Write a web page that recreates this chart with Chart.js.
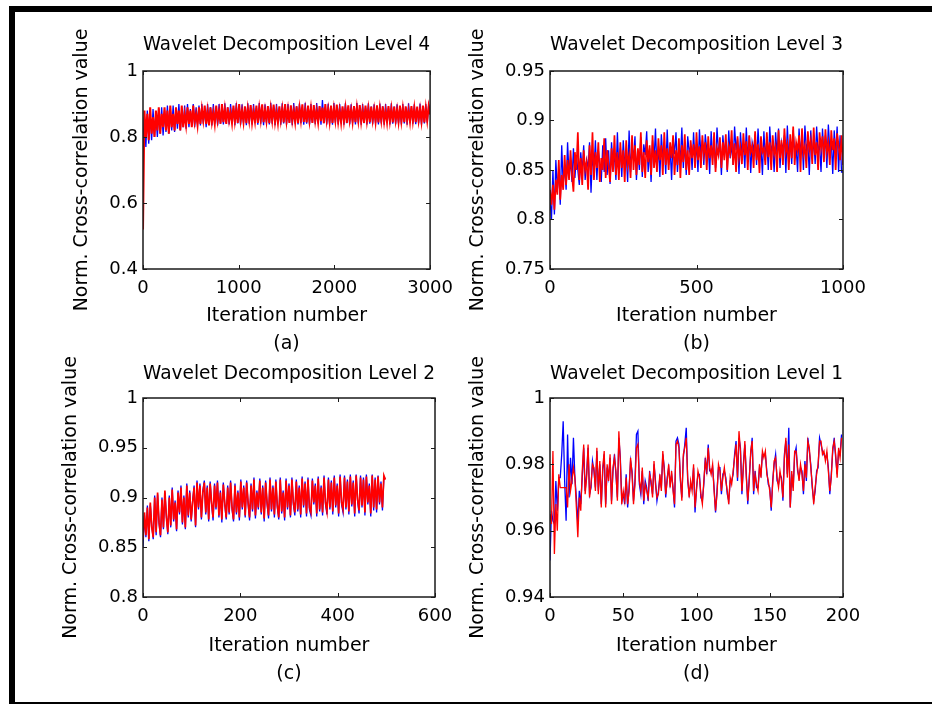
<!DOCTYPE html>
<html>
<head>
<meta charset="utf-8">
<title>Wavelet Decomposition Levels</title>
<script src="https://cdn.jsdelivr.net/npm/chart.js"></script>
<style>
  body { margin: 0; background: #fff; }
  #page { position: relative; width: 932px; height: 705px; overflow: hidden; background: #fff; }
  #page canvas { position: absolute; }
  .bar { position: absolute; background: #000; }
</style>
</head>
<body>
<div id="page">
  <div class="bar" style="left:9px;top:6px;width:923px;height:6px"></div>
  <div class="bar" style="left:9px;top:6px;width:6px;height:698px"></div>
  <div class="bar" style="left:9px;top:702px;width:923px;height:2px"></div>
  <canvas id="panelA" width="442" height="346" style="left:20px;top:14px"></canvas>
  <canvas id="panelB" width="440" height="346" style="left:462px;top:14px"></canvas>
  <canvas id="panelC" width="442" height="360" style="left:20px;top:340px"></canvas>
  <canvas id="panelD" width="440" height="360" style="left:462px;top:340px"></canvas>
</div>
<script>
// Level 4 (a): one sample every 15 iterations
var stepA = 15;
var blueA = [
  0.78, 0.86, 0.77, 0.88, 0.78, 0.87, 0.79, 0.885, 0.80, 0.87,
  0.80, 0.885, 0.81, 0.89, 0.805, 0.88, 0.815, 0.895, 0.81, 0.885,
  0.82, 0.895, 0.815, 0.88, 0.825, 0.9, 0.82, 0.885, 0.83, 0.895,
  0.825, 0.9, 0.83, 0.885, 0.835, 0.9, 0.83, 0.89, 0.84, 0.895,
  0.835, 0.9, 0.84, 0.885, 0.83, 0.9, 0.84, 0.89, 0.835, 0.9,
  0.84, 0.89, 0.835, 0.9, 0.84, 0.885, 0.838, 0.902, 0.842, 0.89,
  0.838, 0.9, 0.843, 0.888, 0.836, 0.903, 0.841, 0.893, 0.837, 0.899,
  0.843, 0.887, 0.836, 0.902, 0.84, 0.892, 0.838, 0.9, 0.842, 0.889,
  0.837, 0.903, 0.84, 0.891, 0.836, 0.899, 0.843, 0.888, 0.838, 0.904,
  0.84, 0.893, 0.836, 0.9, 0.842, 0.889, 0.837, 0.902, 0.841, 0.892,
  0.838, 0.9, 0.843, 0.888, 0.836, 0.903, 0.84, 0.893, 0.838, 0.901,
  0.842, 0.889, 0.837, 0.904, 0.84, 0.892, 0.838, 0.9, 0.843, 0.888,
  0.839, 0.903, 0.841, 0.893, 0.837, 0.912, 0.842, 0.89, 0.838, 0.901,
  0.84, 0.888, 0.837, 0.903, 0.843, 0.892, 0.838, 0.9, 0.841, 0.889,
  0.837, 0.902, 0.842, 0.891, 0.839, 0.899, 0.843, 0.888, 0.838, 0.903,
  0.841, 0.893, 0.837, 0.9, 0.842, 0.889, 0.838, 0.902, 0.84, 0.892,
  0.839, 0.899, 0.842, 0.888, 0.838, 0.901, 0.841, 0.893, 0.837, 0.9,
  0.843, 0.889, 0.838, 0.902, 0.84, 0.892, 0.839, 0.899, 0.842, 0.888,
  0.838, 0.9, 0.841, 0.891, 0.837, 0.902, 0.842, 0.89, 0.84, 0.899,
  0.839, 0.888, 0.842, 0.901, 0.838, 0.893, 0.841, 0.9, 0.843, 0.897,
  0.875
];
var redA = [
  0.52, 0.88, 0.80, 0.87, 0.79, 0.89, 0.81, 0.86, 0.80, 0.88,
  0.82, 0.89, 0.81, 0.87, 0.83, 0.89, 0.82, 0.88, 0.81, 0.895,
  0.83, 0.87, 0.82, 0.89, 0.84, 0.88, 0.82, 0.895, 0.83, 0.87,
  0.835, 0.89, 0.84, 0.88, 0.83, 0.895, 0.845, 0.87, 0.835, 0.89,
  0.84, 0.885, 0.85, 0.895, 0.84, 0.88, 0.835, 0.89, 0.845, 0.875,
  0.84, 0.895, 0.85, 0.88, 0.84, 0.9, 0.845, 0.885, 0.84, 0.89,
  0.85, 0.875, 0.842, 0.895, 0.848, 0.885, 0.843, 0.9, 0.85, 0.88,
  0.845, 0.893, 0.842, 0.886, 0.85, 0.897, 0.844, 0.878, 0.847, 0.895,
  0.843, 0.888, 0.852, 0.899, 0.845, 0.882, 0.848, 0.894, 0.842, 0.887,
  0.85, 0.898, 0.846, 0.879, 0.843, 0.893, 0.851, 0.886, 0.844, 0.9,
  0.848, 0.884, 0.843, 0.896, 0.85, 0.88, 0.845, 0.893, 0.842, 0.888,
  0.851, 0.899, 0.846, 0.883, 0.844, 0.895, 0.849, 0.887, 0.843, 0.897,
  0.85, 0.881, 0.845, 0.894, 0.848, 0.889, 0.842, 0.9, 0.851, 0.884,
  0.846, 0.895, 0.843, 0.886, 0.85, 0.898, 0.847, 0.882, 0.844, 0.893,
  0.849, 0.888, 0.843, 0.896, 0.851, 0.883, 0.846, 0.894, 0.845, 0.889,
  0.85, 0.897, 0.847, 0.882, 0.843, 0.895, 0.849, 0.886, 0.845, 0.892,
  0.851, 0.884, 0.846, 0.896, 0.844, 0.887, 0.85, 0.893, 0.847, 0.881,
  0.845, 0.894, 0.849, 0.886, 0.844, 0.892, 0.85, 0.883, 0.846, 0.895,
  0.848, 0.887, 0.845, 0.893, 0.851, 0.882, 0.846, 0.894, 0.849, 0.888,
  0.845, 0.892, 0.85, 0.884, 0.847, 0.895, 0.844, 0.889, 0.85, 0.893,
  0.868
];

// Level 3 (b): one sample every 5 iterations
var stepB = 5;
var blueB = [
  0.82, 0.8, 0.85, 0.805, 0.86, 0.83, 0.85, 0.815, 0.875, 0.835,
  0.855, 0.83, 0.878, 0.845, 0.86, 0.838, 0.872, 0.842, 0.865, 0.85,
  0.835, 0.868, 0.848, 0.875, 0.84, 0.86, 0.852, 0.878, 0.827, 0.865,
  0.85, 0.88, 0.84, 0.87, 0.855, 0.838, 0.875, 0.848, 0.882, 0.845,
  0.87, 0.836, 0.878, 0.855, 0.865, 0.84, 0.888, 0.85, 0.872, 0.843,
  0.88, 0.855, 0.868, 0.838, 0.89, 0.848, 0.875, 0.86, 0.884, 0.84,
  0.87, 0.85, 0.883, 0.843, 0.876, 0.865, 0.889, 0.848, 0.872, 0.838,
  0.88, 0.858, 0.892, 0.85, 0.874, 0.843, 0.886, 0.862, 0.878, 0.846,
  0.891, 0.855, 0.873, 0.84, 0.882, 0.866, 0.888, 0.848, 0.875, 0.86,
  0.893, 0.852, 0.878, 0.845, 0.884, 0.868, 0.874, 0.85, 0.888, 0.858,
  0.876, 0.848, 0.891, 0.865, 0.88, 0.855, 0.886, 0.87, 0.875, 0.846,
  0.889, 0.862, 0.878, 0.852, 0.893, 0.868, 0.874, 0.845, 0.885, 0.866,
  0.88, 0.848, 0.89, 0.862, 0.876, 0.855, 0.894, 0.87, 0.882, 0.846,
  0.888, 0.865, 0.875, 0.852, 0.893, 0.86, 0.884, 0.847, 0.878, 0.87,
  0.886, 0.855, 0.892, 0.866, 0.874, 0.845, 0.889, 0.862, 0.88, 0.85,
  0.894, 0.868, 0.876, 0.848, 0.888, 0.865, 0.892, 0.852, 0.878, 0.87,
  0.885, 0.847, 0.895, 0.862, 0.88, 0.856, 0.89, 0.868, 0.874, 0.848,
  0.892, 0.865, 0.884, 0.85, 0.895, 0.87, 0.878, 0.845, 0.89, 0.862,
  0.882, 0.856, 0.894, 0.868, 0.876, 0.848, 0.892, 0.865, 0.885, 0.852,
  0.896, 0.87, 0.88, 0.846, 0.89, 0.866, 0.894, 0.848, 0.885, 0.848,
  0.848
];
var redB = [
  0.83, 0.815, 0.835, 0.81, 0.84, 0.825, 0.86, 0.82, 0.845, 0.83,
  0.865, 0.835, 0.86, 0.84, 0.87, 0.845, 0.828, 0.868, 0.85, 0.888,
  0.84, 0.862, 0.835, 0.87, 0.85, 0.858, 0.83, 0.875, 0.845, 0.888,
  0.84, 0.868, 0.852, 0.878, 0.838, 0.862, 0.85, 0.882, 0.842, 0.87,
  0.855, 0.838, 0.872, 0.848, 0.885, 0.845, 0.868, 0.84, 0.878, 0.852,
  0.87, 0.838, 0.88, 0.855, 0.865, 0.842, 0.885, 0.85, 0.875, 0.845,
  0.872, 0.855, 0.888, 0.848, 0.868, 0.842, 0.88, 0.858, 0.875, 0.845,
  0.885, 0.852, 0.87, 0.848, 0.882, 0.86, 0.875, 0.845, 0.888, 0.855,
  0.872, 0.85, 0.878, 0.862, 0.885, 0.845, 0.87, 0.855, 0.882, 0.842,
  0.875, 0.858, 0.886, 0.85, 0.87, 0.845, 0.88, 0.862, 0.876, 0.852,
  0.888, 0.86, 0.874, 0.852, 0.885, 0.866, 0.878, 0.85, 0.884, 0.862,
  0.875, 0.855, 0.888, 0.848, 0.872, 0.865, 0.883, 0.852, 0.878, 0.86,
  0.886, 0.85, 0.874, 0.867, 0.89, 0.855, 0.877, 0.848, 0.884, 0.862,
  0.873, 0.856, 0.887, 0.865, 0.879, 0.85, 0.885, 0.868, 0.874, 0.852,
  0.889, 0.86, 0.876, 0.847, 0.884, 0.868, 0.872, 0.855, 0.888, 0.863,
  0.878, 0.85, 0.885, 0.866, 0.874, 0.848, 0.89, 0.862, 0.88, 0.855,
  0.892, 0.868, 0.876, 0.85, 0.886, 0.862, 0.894, 0.855, 0.878, 0.87,
  0.885, 0.848, 0.892, 0.866, 0.874, 0.852, 0.889, 0.87, 0.88, 0.856,
  0.893, 0.865, 0.878, 0.85, 0.888, 0.872, 0.884, 0.858, 0.891, 0.868,
  0.878, 0.855, 0.89, 0.87, 0.882, 0.85, 0.887, 0.875, 0.86, 0.885,
  0.855
];

// Level 2 (c): one sample every 3 iterations
var stepC = 3;
var blueC = [
  0.85, 0.882, 0.86, 0.892, 0.856, 0.893, 0.872, 0.858, 0.902, 0.862,
  0.903, 0.874, 0.86, 0.9, 0.868, 0.905, 0.882, 0.863, 0.902, 0.87,
  0.91, 0.876, 0.897, 0.866, 0.907, 0.883, 0.912, 0.873, 0.902, 0.868,
  0.914, 0.88, 0.907, 0.876, 0.897, 0.912, 0.87, 0.917, 0.888, 0.914,
  0.878, 0.907, 0.917, 0.883, 0.912, 0.876, 0.916, 0.893, 0.877, 0.914,
  0.888, 0.917, 0.88, 0.907, 0.875, 0.915, 0.893, 0.878, 0.912, 0.883,
  0.917, 0.888, 0.876, 0.914, 0.883, 0.907, 0.877, 0.918, 0.888, 0.912,
  0.88, 0.917, 0.893, 0.877, 0.914, 0.886, 0.92, 0.879, 0.907, 0.888,
  0.919, 0.883, 0.912, 0.876, 0.917, 0.893, 0.879, 0.92, 0.886, 0.912,
  0.88, 0.918, 0.89, 0.878, 0.92, 0.884, 0.907, 0.877, 0.919, 0.888,
  0.914, 0.88, 0.92, 0.893, 0.882, 0.918, 0.886, 0.912, 0.88, 0.921,
  0.89, 0.916, 0.881, 0.92, 0.888, 0.882, 0.919, 0.893, 0.914, 0.881,
  0.921, 0.886, 0.912, 0.882, 0.922, 0.893, 0.883, 0.92, 0.888, 0.917,
  0.883, 0.922, 0.89, 0.914, 0.881, 0.923, 0.893, 0.885, 0.922, 0.888,
  0.918, 0.883, 0.923, 0.891, 0.917, 0.881, 0.923, 0.896, 0.884, 0.922,
  0.89, 0.92, 0.882, 0.923, 0.893, 0.914, 0.881, 0.923, 0.887, 0.92,
  0.885, 0.922, 0.893, 0.916, 0.887, 0.92, 0.919
];
var redC = [
  0.858, 0.885, 0.862, 0.89, 0.858, 0.895, 0.87, 0.86, 0.9, 0.865,
  0.905, 0.875, 0.862, 0.898, 0.87, 0.907, 0.88, 0.865, 0.9, 0.872,
  0.908, 0.878, 0.895, 0.868, 0.905, 0.885, 0.91, 0.875, 0.9, 0.87,
  0.912, 0.882, 0.905, 0.878, 0.895, 0.91, 0.872, 0.915, 0.89, 0.912,
  0.88, 0.905, 0.915, 0.885, 0.91, 0.878, 0.914, 0.895, 0.88, 0.912,
  0.89, 0.915, 0.882, 0.905, 0.878, 0.913, 0.895, 0.88, 0.91, 0.885,
  0.915, 0.89, 0.878, 0.912, 0.885, 0.905, 0.88, 0.916, 0.89, 0.91,
  0.882, 0.915, 0.895, 0.88, 0.912, 0.888, 0.918, 0.882, 0.905, 0.89,
  0.917, 0.885, 0.91, 0.879, 0.915, 0.895, 0.882, 0.918, 0.888, 0.91,
  0.883, 0.916, 0.892, 0.88, 0.918, 0.886, 0.905, 0.88, 0.917, 0.89,
  0.912, 0.882, 0.918, 0.895, 0.885, 0.916, 0.888, 0.91, 0.883, 0.919,
  0.892, 0.914, 0.884, 0.918, 0.89, 0.885, 0.917, 0.895, 0.912, 0.884,
  0.919, 0.888, 0.91, 0.885, 0.92, 0.895, 0.886, 0.918, 0.89, 0.915,
  0.886, 0.92, 0.892, 0.912, 0.884, 0.921, 0.895, 0.888, 0.92, 0.89,
  0.916, 0.886, 0.921, 0.893, 0.915, 0.884, 0.922, 0.898, 0.887, 0.92,
  0.892, 0.918, 0.885, 0.921, 0.895, 0.912, 0.884, 0.922, 0.89, 0.918,
  0.888, 0.921, 0.895, 0.914, 0.89, 0.922, 0.918
];

// Level 1 (d): every iteration
var stepD = 1;
var blueD = [
  0.951, 0.966, 0.963, 0.962, 0.975, 0.966, 0.976, 0.976, 0.983, 0.993,
  0.975, 0.963, 0.989, 0.97, 0.982, 0.974, 0.988, 0.976, 0.97, 0.962,
  0.972, 0.968, 0.976, 0.985, 0.972, 0.977, 0.985, 0.971, 0.973, 0.981,
  0.978, 0.973, 0.984, 0.972, 0.98, 0.968, 0.978, 0.983, 0.968, 0.979,
  0.976, 0.982, 0.969, 0.978, 0.983, 0.977, 0.97, 0.988, 0.982, 0.969,
  0.971, 0.968, 0.977, 0.967, 0.973, 0.981, 0.978, 0.969, 0.975, 0.989,
  0.99, 0.974, 0.971, 0.978, 0.968, 0.975, 0.973, 0.969, 0.978, 0.974,
  0.971, 0.98, 0.975, 0.969, 0.972, 0.976, 0.973, 0.983, 0.979, 0.97,
  0.976, 0.979, 0.974, 0.977, 0.973, 0.967, 0.987, 0.988, 0.986, 0.975,
  0.97, 0.982, 0.986, 0.991, 0.975, 0.971, 0.974, 0.973, 0.979, 0.9655,
  0.973, 0.977, 0.977, 0.97, 0.969, 0.974, 0.982, 0.977, 0.986, 0.978,
  0.978, 0.979, 0.973, 0.9655, 0.972, 0.979, 0.979, 0.971, 0.977, 0.978,
  0.976, 0.971, 0.969, 0.975, 0.975, 0.977, 0.983, 0.987, 0.975, 0.988,
  0.985, 0.971, 0.98, 0.986, 0.977, 0.968, 0.976, 0.983, 0.988, 0.971,
  0.978, 0.973, 0.973, 0.979, 0.977, 0.983, 0.983, 0.983, 0.978, 0.974,
  0.973, 0.966, 0.975, 0.98, 0.983, 0.975, 0.974, 0.977, 0.976, 0.969,
  0.983, 0.987, 0.977, 0.991, 0.967, 0.977, 0.973, 0.983, 0.985, 0.978,
  0.976, 0.979, 0.978, 0.971, 0.981, 0.975, 0.988, 0.984, 0.98, 0.973,
  0.969, 0.972, 0.978, 0.979, 0.988, 0.986, 0.984, 0.983, 0.982, 0.983,
  0.979, 0.971, 0.977, 0.984, 0.988, 0.982, 0.977, 0.984, 0.983, 0.989
];
var redD = [
  0.965, 0.962, 0.984, 0.953, 0.968, 0.96, 0.977, 0.973, 0.973, 0.973,
  0.973, 0.973, 0.967, 0.98, 0.972, 0.975, 0.979, 0.976, 0.967, 0.958,
  0.97, 0.966, 0.978, 0.986, 0.971, 0.976, 0.986, 0.97, 0.974, 0.98,
  0.979, 0.972, 0.985, 0.971, 0.981, 0.967, 0.979, 0.984, 0.967, 0.98,
  0.975, 0.983, 0.968, 0.979, 0.982, 0.978, 0.969, 0.99, 0.981, 0.968,
  0.972, 0.969, 0.976, 0.968, 0.972, 0.982, 0.977, 0.968, 0.974, 0.985,
  0.986, 0.975, 0.972, 0.979, 0.969, 0.974, 0.972, 0.97, 0.977, 0.975,
  0.97, 0.981, 0.974, 0.97, 0.971, 0.977, 0.972, 0.984, 0.978, 0.971,
  0.975, 0.98, 0.973, 0.978, 0.972, 0.968, 0.986, 0.987, 0.985, 0.976,
  0.969, 0.983, 0.985, 0.988, 0.976, 0.97, 0.975, 0.972, 0.98, 0.967,
  0.972, 0.978, 0.976, 0.971, 0.968, 0.975, 0.981, 0.978, 0.985, 0.979,
  0.977, 0.98, 0.972, 0.966, 0.971, 0.98, 0.978, 0.972, 0.976, 0.979,
  0.975, 0.972, 0.968, 0.976, 0.974, 0.978, 0.982, 0.986, 0.976, 0.99,
  0.984, 0.972, 0.979, 0.987, 0.976, 0.969, 0.975, 0.984, 0.987, 0.972,
  0.977, 0.974, 0.972, 0.98, 0.976, 0.984, 0.982, 0.984, 0.977, 0.975,
  0.972, 0.967, 0.974, 0.981, 0.982, 0.976, 0.973, 0.978, 0.975, 0.97,
  0.982, 0.988, 0.976, 0.986, 0.967, 0.978, 0.972, 0.984, 0.984, 0.979,
  0.975, 0.98, 0.977, 0.972, 0.98, 0.976, 0.987, 0.985, 0.979, 0.974,
  0.968, 0.973, 0.977, 0.98, 0.987, 0.987, 0.983, 0.984, 0.981, 0.984,
  0.978, 0.972, 0.976, 0.985, 0.987, 0.983, 0.976, 0.985, 0.982, 0.988
];

// axis ticks
var xTicksA = [0, 1000, 2000, 3000];
var yTicksA = [0.4, 0.6, 0.8, 1];
var xTicksB = [0, 500, 1000];
var yTicksB = [0.75, 0.8, 0.85, 0.9, 0.95];
var xTicksC = [0, 200, 400, 600];
var yTicksC = [0.8, 0.85, 0.9, 0.95, 1];
var xTicksD = [0, 50, 100, 150, 200];
var yTicksD = [0.94, 0.96, 0.98, 1];

var FONT = '"DejaVu Sans", "Liberation Sans", Arial, sans-serif';

// matlab style box with ticks pointing inward on all 4 sides
var boxTicks = {
	id: 'boxTicks',
	afterDatasetsDraw: function(chart) {
		var ctx = chart.ctx;
		var a = chart.chartArea;
		var xs = chart.scales.x;
		var ys = chart.scales.y;
		var len = 4;
		ctx.save();
		ctx.strokeStyle = '#1a1a1a';
		ctx.lineWidth = 1;
		ctx.beginPath();
		xs.ticks.forEach(function(t) {
			var px = Math.round(xs.getPixelForValue(t.value)) + 0.5;
			ctx.moveTo(px, a.bottom); ctx.lineTo(px, a.bottom - len);
			ctx.moveTo(px, a.top); ctx.lineTo(px, a.top + len);
		});
		ys.ticks.forEach(function(t) {
			var py = Math.round(ys.getPixelForValue(t.value)) + 0.5;
			ctx.moveTo(a.left, py); ctx.lineTo(a.left + len, py);
			ctx.moveTo(a.right, py); ctx.lineTo(a.right - len, py);
		});
		ctx.stroke();
		ctx.lineWidth = 1.5;
		ctx.strokeRect(a.left, a.top, a.right - a.left, a.bottom - a.top);
		ctx.restore();
	}
};

function makePanel(id, p) {

	var blue = [];
	var red = [];
	for (var i = 0; i < p.blue.length; i++) {
		blue.push({x: i * p.step, y: p.blue[i]});
		red.push({x: i * p.step, y: p.red[i]});
	}

	return new Chart(document.getElementById(id), {
		type: 'line',
		data: {
			datasets: [
				{ data: red, borderColor: '#ff0000', borderWidth: p.redW, pointRadius: 0, order: 0, xAxisID: 'x', yAxisID: 'y' },
				{ data: blue, borderColor: '#0000ff', borderWidth: p.blueW, pointRadius: 0, order: 1, xAxisID: 'x', yAxisID: 'y' }
			]
		},
		options: {
			responsive: false,
			animation: false,
			events: [],
			layout: { padding: { left: 0, top: 0, right: p.padRight, bottom: 0 } },
			plugins: { legend: { display: false }, tooltip: { enabled: false } },
			scales: {
				x: {
					type: 'linear', position: 'bottom',
					min: p.xTicks[0], max: p.xTicks[p.xTicks.length - 1],
					afterBuildTicks: function(s) { s.ticks = p.xTicks.map(function(v) { return {value: v}; }); },
					ticks: {
						autoSkip: false, maxRotation: 0, padding: 9, color: '#000',
						font: { family: FONT, size: 18 },
						callback: function(v) { return String(v); }
					},
					grid: { display: false, drawTicks: false },
					border: { display: false },
					title: {
						display: true, text: ['Iteration number', p.tag], color: '#000',
						font: { family: FONT, size: 19, lineHeight: '28px' },
						padding: { top: 0, bottom: p.xLabelPad }
					},
					afterFit: function(s) { s.height = p.bottomH; }
				},
				y: {
					type: 'linear', position: 'left',
					min: p.yTicks[0], max: p.yTicks[p.yTicks.length - 1],
					afterBuildTicks: function(s) { s.ticks = p.yTicks.map(function(v) { return {value: v}; }); },
					ticks: {
						autoSkip: false, padding: 5, color: '#000',
						font: { family: FONT, size: 18 },
						callback: function(v) { return String(v); }
					},
					grid: { display: false, drawTicks: false },
					border: { display: false },
					title: {
						display: true, text: 'Norm. Cross-correlation value', color: '#000',
						font: { family: FONT, size: 19, lineHeight: '22px' },
						padding: { top: p.yLabelPad, bottom: 0 }
					},
					afterFit: function(s) { s.width = p.leftW; }
				},
				// empty axis on top, only carries the panel title
				top: {
					type: 'linear', position: 'top',
					ticks: { display: false },
					grid: { display: false, drawTicks: false },
					border: { display: false },
					title: {
						display: true, text: p.title, color: '#000',
						font: { family: FONT, size: 19, lineHeight: '22px' },
						padding: { top: p.titlePad, bottom: 0 }
					},
					afterFit: function(s) { s.height = p.topH; }
				}
			}
		},
		plugins: [boxTicks]
	});
}

makePanel('panelA', {
	title: 'Wavelet Decomposition Level 4', tag: '(a)',
	step: stepA, blue: blueA, red: redA, xTicks: xTicksA, yTicks: yTicksA,
	redW: 2, blueW: 1.3,
	leftW: 123, padRight: 27, topH: 57, bottomH: 91,
	titlePad: 20, xLabelPad: 2, yLabelPad: 51
});
makePanel('panelB', {
	title: 'Wavelet Decomposition Level 3', tag: '(b)',
	step: stepB, blue: blueB, red: redB, xTicks: xTicksB, yTicks: yTicksB,
	redW: 1.7, blueW: 1.3,
	leftW: 88, padRight: 59, topH: 57, bottomH: 91,
	titlePad: 20, xLabelPad: 2, yLabelPad: 5
});
makePanel('panelC', {
	title: 'Wavelet Decomposition Level 2', tag: '(c)',
	step: stepC, blue: blueC, red: redC, xTicks: xTicksC, yTicks: yTicksC,
	redW: 1.7, blueW: 1.3,
	leftW: 123, padRight: 27, topH: 58, bottomH: 103,
	titlePad: 23, xLabelPad: 12, yLabelPad: 40
});
makePanel('panelD', {
	title: 'Wavelet Decomposition Level 1', tag: '(d)',
	step: stepD, blue: blueD, red: redD, xTicks: xTicksD, yTicks: yTicksD,
	redW: 1.3, blueW: 1.3,
	leftW: 88, padRight: 59, topH: 58, bottomH: 103,
	titlePad: 23, xLabelPad: 12, yLabelPad: 5
});
</script>
</body>
</html>
